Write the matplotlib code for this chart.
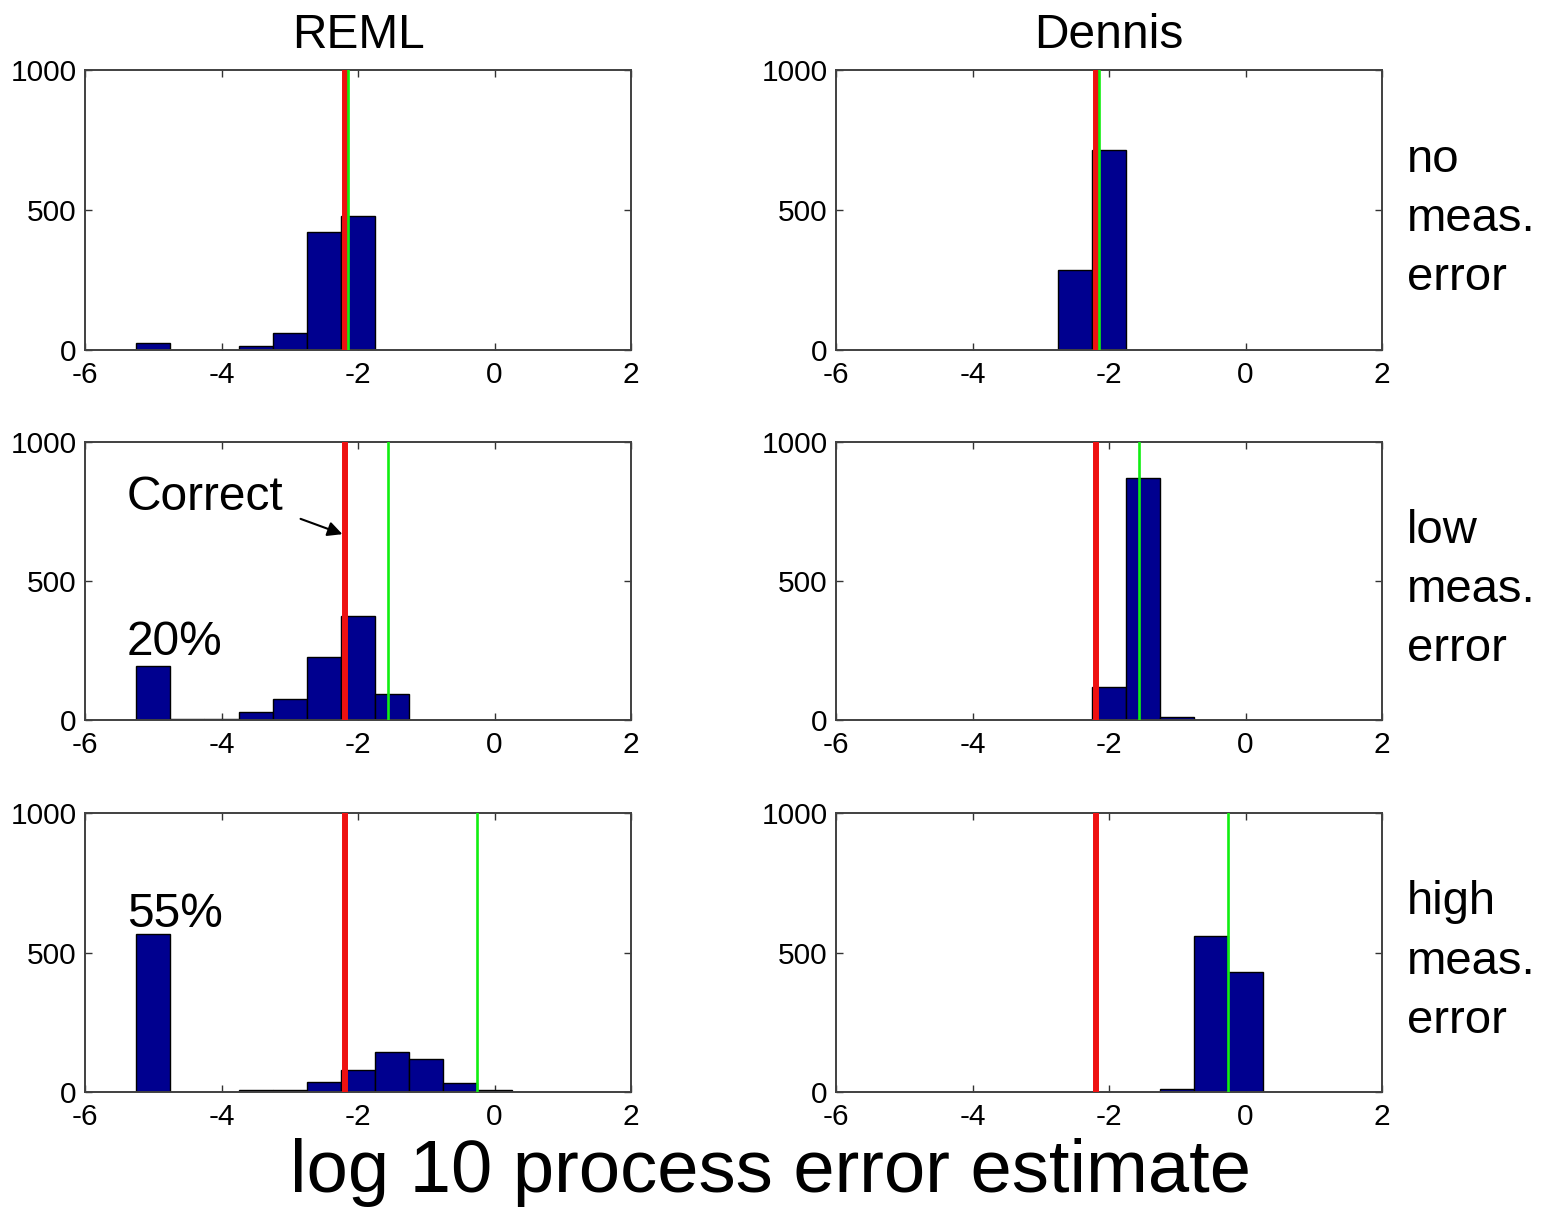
import matplotlib
matplotlib.use("Agg")
import matplotlib.pyplot as plt
import numpy as np

plt.rcParams['font.family'] = ['Liberation Sans', 'DejaVu Sans']
plt.rcParams['axes.unicode_minus'] = False

# ---- data ----
bin_centers = [-5.0, -4.5, -4.0, -3.5, -3.0, -2.5, -2.0, -1.5, -1.0, -0.5, 0.0]
reml_none = [25, 0, 0, 15, 60, 420, 480, 0, 0, 0, 0]
reml_low = [195, 3, 3, 30, 75, 225, 375, 94, 0, 0, 0]
reml_high = [565, 0, 0, 8, 8, 35, 80, 145, 120, 32, 7]
dennis_none = [0, 0, 0, 0, 0, 285, 715, 0, 0, 0, 0]
dennis_low = [0, 0, 0, 0, 0, 0, 120, 870, 10, 0, 0]
dennis_high = [0, 0, 0, 0, 0, 0, 0, 0, 10, 560, 430]

true_value = -2.19                      # red line (correct value)
mean_reml = [-2.15, -1.56, -0.25]       # green lines, REML
mean_dennis = [-2.15, -1.555, -0.25]    # green lines, Dennis

col_titles = ["REML", "Dennis"]
row_labels = ["no\nmeas.\nerror", "low\nmeas.\nerror", "high\nmeas.\nerror"]
x_ticks = [-6, -4, -2, 0, 2]
y_ticks = [0, 500, 1000]
xlabel = "log 10 process error estimate"

W, H = 1541, 1209
fig = plt.figure(figsize=(W / 100, H / 100), dpi=100)

col_x = [85, 836]
ax_w = 546
row_y = [(70, 350), (442, 720), (813, 1092)]

data = [[reml_none, dennis_none], [reml_low, dennis_low], [reml_high, dennis_high]]
greens = [mean_reml, mean_dennis]

navy = '#00008F'
axes = {}
for r in range(3):
    for c in range(2):
        top, bot = row_y[r]
        ax = fig.add_axes([col_x[c] / W, 1 - bot / H, ax_w / W, (bot - top) / H])
        axes[(r, c)] = ax
        counts = np.array(data[r][c])
        cen = np.array(bin_centers)
        m = counts > 0
        ax.bar(cen[m], counts[m], width=0.5, color=navy, edgecolor='black',
               linewidth=1.0, zorder=2)
        ax.axvline(true_value, color='#EE1111', lw=4.3, zorder=3)
        ax.axvline(greens[c][r], color='#11EE11', lw=1.9, zorder=4)
        ax.set_xlim(-6, 2)
        ax.set_ylim(0, 1000)
        ax.set_xticks(x_ticks)
        ax.set_yticks(y_ticks)
        ax.tick_params(direction='in', length=5, width=1.0, top=True, right=True,
                       labelsize=21.5, colors='#333333', labelcolor='black')
        ax.tick_params(axis='x', pad=8)
        ax.tick_params(axis='y', pad=6)
        for s in ax.spines.values():
            s.set_color('#404040')
            s.set_linewidth(1.4)
        if r == 0:
            ax.set_title(col_titles[c], fontsize=34.5, pad=16)

# row labels
for r in range(3):
    top, bot = row_y[r]
    yc = 1 - ((top + bot) / 2 + 9) / H
    fig.text(1407 / W, yc, row_labels[r], fontsize=34, ha='left', va='center',
             linespacing=1.45)

# annotations
ax = axes[(1, 0)]
ax.text(-5.385, 755, "Correct", fontsize=34.5, ha='left', va='baseline')
ax.annotate("", xy=(true_value, 665), xytext=(-2.88, 727),
            arrowprops=dict(arrowstyle='-|>', color='black', lw=1.5,
                            mutation_scale=22), zorder=5)
ax.text(-5.385, 234, "20%", fontsize=34.5, ha='left', va='baseline')
axes[(2, 0)].text(-5.385, 592, "55%", fontsize=34.5, ha='left', va='baseline')

fig.text(0.5, 1 - 1192 / H, xlabel, fontsize=53.5, ha='center', va='baseline')

fig.savefig("out.png", dpi=100, facecolor='white')
